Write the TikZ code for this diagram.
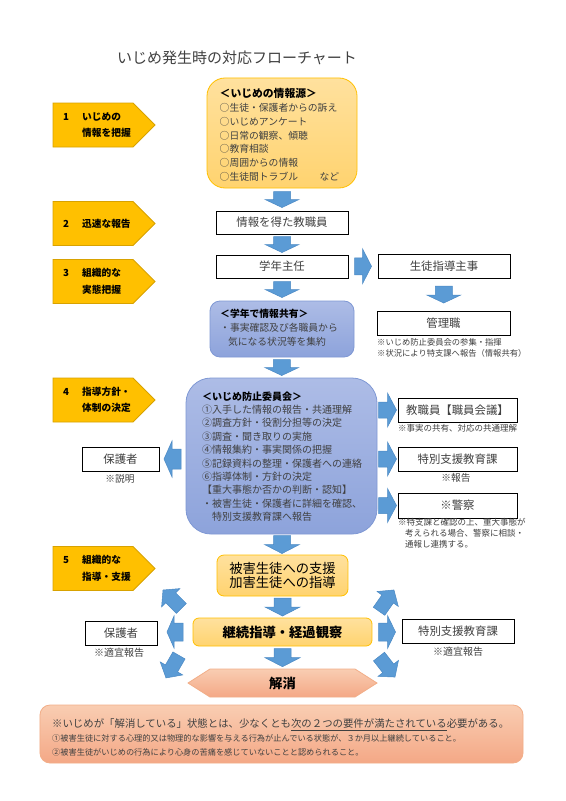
\documentclass[tikz,border=0pt]{standalone}
\usepackage{fontspec}
\setmainfont{Noto Sans CJK JP}
\usetikzlibrary{calc}
\definecolor{gold}{HTML}{FFC000}
\definecolor{golddark}{HTML}{D8A200}
\definecolor{ltor1}{HTML}{FFE19E}
\definecolor{ltor2}{HTML}{FFD36F}
\definecolor{blu}{HTML}{5B9BD5}
\definecolor{bludark}{HTML}{4A89C4}
\definecolor{per1}{HTML}{ADBCE6}
\definecolor{per2}{HTML}{8DA3DB}
\definecolor{perd}{HTML}{7F98D4}
\definecolor{sal1}{HTML}{F9CDB2}
\definecolor{sal2}{HTML}{F4A886}
\definecolor{sald}{HTML}{F2AE88}
\definecolor{txtgray}{HTML}{404040}
\newcommand{\fsz}[2]{\fontsize{#1bp}{#2bp}\selectfont}
\newcommand{\barr}[6]{\draw[barrow,shift={#1},rotate=#2] (-#3/2,-#4/2) -- (#3/2-#6,-#4/2) -- (#3/2-#6,-#5/2) -- (#3/2,0) -- (#3/2-#6,#5/2) -- (#3/2-#6,#4/2) -- (-#3/2,#4/2) -- cycle;}
\newcommand{\labshape}[1]{\path[labfill] (53,#1-22) -- (133,#1-22) -- (155,#1) -- (133,#1+22) -- (53,#1+22) -- cycle;}
\begin{document}
\begin{tikzpicture}[x=1bp,y=-1bp,
  labfill/.style={fill=gold, draw=golddark, line width=0.8bp, line join=miter},
  labtxt/.style={font=\bfseries\fsz{9.7}{16.5}, align=left, anchor=west, inner sep=0},
  box/.style={draw=black, line width=0.8bp, fill=white, inner sep=0, text=txtgray, font=\fsz{11.4}{13}},
  orbox/.style={draw=gold, line width=0.8bp, top color=ltor1, bottom color=ltor2, inner sep=0},
  perbox/.style={draw=perd, line width=0.8bp, top color=per1, bottom color=per2, inner sep=0},
  salbox/.style={draw=sald, line width=0.8bp, top color=sal1, bottom color=sal2, inner sep=0},
  txt/.style={inner sep=0, text=txtgray},
  barrow/.style={fill=blu, draw=bludark, line width=0.5bp, line join=miter}]
\fill[white] (0,0) rectangle (566,801);
\useasboundingbox (0,0) rectangle (566,801);

\node[txt, font=\fsz{15}{18}] (title) at (237,58) {いじめ発生時の対応フローチャート};

% stage labels
\labshape{125}
\node[labtxt] (l1t) at (63,125) {\makebox[19bp][l]{1}いじめの\\\hspace*{19bp}情報を把握};
\labshape{223.5}
\node[labtxt] (l2t) at (63,223.5) {\makebox[19bp][l]{2}迅速な報告};
\labshape{281.5}
\node[labtxt] (l3t) at (63,281.5) {\makebox[19bp][l]{3}組織的な\\\hspace*{19bp}実態把握};
\labshape{400}
\node[labtxt] (l4t) at (63,400) {\makebox[19bp][l]{4}指導方針・\\\hspace*{19bp}体制の決定};
\labshape{568.5}
\node[labtxt] (l5t) at (63,568.5) {\makebox[19bp][l]{5}組織的な\\\hspace*{19bp}指導・支援};

% info source
\node[orbox, rounded corners=18bp, minimum width=150bp, minimum height=110bp] (info) at (282,133) {};
\node[txt, anchor=north west, align=left, font=\fsz{9.8}{13.7}] (infot) at (219.5,88.5)
 {{\bfseries\color{black}\fsz{10.8}{13.7}＜いじめの情報源＞}\\○生徒・保護者からの訴え\\○いじめアンケート\\○日常の観察、傾聴\\○教育相談\\○周囲からの情報\\○生徒間トラブル\hspace{2.2em}など};

\node[box, minimum width=132bp, minimum height=23bp] (t1) at (282,222.5) {情報を得た教職員};
\node[box, minimum width=132bp, minimum height=23bp] (t2) at (282,266.5) {学年主任};
\node[box, minimum width=132bp, minimum height=24bp] (t3) at (444,266) {生徒指導主事};
\node[box, minimum width=133bp, minimum height=24bp] (t4) at (443.5,323) {管理職};
\node[txt, anchor=north west, align=left, font=\fsz{8.3}{11.6}] (t4n) at (377,338) {※いじめ防止委員会の参集・指揮\\※状況により特支課へ報告（情報共有）};

\node[perbox, rounded corners=10bp, minimum width=144bp, minimum height=56bp] (t5) at (282,329) {};
\node[txt, anchor=north west, align=left, font=\fsz{9.8}{14}] (t5t) at (220,308.6)
 {{\bfseries\color{black}＜学年で情報共有＞}\\・事実確認及び各職員から\\\hspace*{0.8em}気になる状況等を集約};

% committee
\node[perbox, rounded corners=25bp, minimum width=191bp, minimum height=156bp] (com) at (281.5,456) {};
\node[txt, anchor=north west, align=left, font=\fsz{10}{13.35}] (comt) at (202,391.5)
 {{\bfseries\color{black}＜いじめ防止委員会＞}\\①入手した情報の報告・共通理解\\②調査方針・役割分担等の決定\\③調査・聞き取りの実施\\④情報集約・事実関係の把握\\⑤記録資料の整理・保護者への連絡\\⑥指導体制・方針の決定\\【重大事態か否かの判断・認知】\\・被害生徒・保護者に詳細を確認、\\\hspace*{1em}特別支援教育課へ報告};

\node[box, minimum width=77bp, minimum height=24bp] (hogo1) at (120.5,459) {保護者};
\node[txt, font=\fsz{9.7}{11}] (hogo1n) at (120,479) {※説明};

\node[box, minimum width=119bp, minimum height=24bp] (r1) at (457.5,410) {教職員【職員会議】};
\node[txt, anchor=west, font=\fsz{8.5}{10}] (r1n) at (398,428) {※事実の共有、対応の共通理解};
\node[box, minimum width=119bp, minimum height=24bp] (r2) at (457.5,459) {特別支援教育課};
\node[txt, font=\fsz{9.7}{11}] (r2n) at (456,478) {※報告};
\node[box, minimum width=119bp, minimum height=25bp] (r3) at (457.5,505.5) {※警察};
\node[txt, anchor=north west, align=left, font=\fsz{8.5}{11}] (r3n) at (398,518.2)
 {※特支課と確認の上、重大事態が\\\hspace*{0.8em}考えられる場合、警察に相談・\\\hspace*{0.8em}通報し連携する。};

% lower flow
\node[orbox, rounded corners=7bp, minimum width=131bp, minimum height=41bp, align=center, font=\fsz{13.3}{14.5}] (s1) at (282.5,575.5) {被害生徒への支援\\加害生徒への指導};
\node[orbox, rounded corners=6bp, minimum width=179bp, minimum height=28bp, font=\bfseries\fsz{13.3}{15}] (s2) at (282.5,632) {継続指導・経過観察};
\path[salbox] (188,683) -- (210,669) -- (355,669) -- (377,683) -- (355,697) -- (210,697) -- cycle;
\node[inner sep=0, font=\bfseries\fsz{13.3}{15}] (s3) at (282.5,683) {解消};
\coordinate (s3n) at (282.5,669);

\node[box, minimum width=72bp, minimum height=24bp] (hogo2) at (121,633) {保護者};
\node[txt, font=\fsz{10}{11}] (hogo2n) at (119,653) {※適宜報告};
\node[box, minimum width=112bp, minimum height=24bp] (tok2) at (458,631) {特別支援教育課};
\node[txt, font=\fsz{10}{11}] (tok2n) at (458,652) {※適宜報告};

% note
\node[salbox, rounded corners=10bp, minimum width=483bp, minimum height=58bp] (nb) at (281.5,734) {};
\node[txt, anchor=west, font=\fsz{10.4}{12}] (nb1) at (52,725) {※いじめが「解消している」状態とは、少なくとも\underline{次の２つの要件が満たされている}必要がある。};
\node[txt, anchor=west, font=\fsz{8.2}{10}] (nb2) at (52,738) {①被害生徒に対する心理的又は物理的な影響を与える行為が止んでいる状態が、３か月以上継続していること。};
\node[txt, anchor=west, font=\fsz{8.2}{10}] (nb3) at (52,752) {②被害生徒がいじめの行為により心身の苦痛を感じていないことと認められること。};

% arrows
\barr{($(info.south)!.5!(t1.north)$)}{-90}{16}{17}{34}{8}
\barr{($(t1.south)!.5!(t2.north)$)}{-90}{16}{17}{34}{8}
\barr{($(t2.south)!.5!(t5.north)$)}{-90}{16}{17}{34}{8}
\barr{($(t3.south)!.5!(t4.north)$)}{-90}{17}{17}{34}{8}
\barr{($(t5.south)!.5!(com.north)$)}{-90}{16}{17}{34}{8}
\barr{($(com.south)!.5!(s1.north)$)}{-90}{18}{17}{35}{9}
\barr{($(s1.south)!.5!(s2.north)$)}{-90}{18}{17}{35}{9}
\barr{($(s2.south)!.5!(s3n)$)}{-90}{18}{17}{35}{9}
\barr{($(t2.east)!.5!(t3.west)$)}{0}{17}{17}{35}{9}
\barr{($(com.east|-r1.west)!.5!(r1.west)$)}{0}{18}{16}{34}{9}
\barr{($(com.east|-r2.west)!.5!(r2.west)$)}{0}{18}{16}{34}{9}
\barr{($(com.east|-r3.west)!.5!(r3.west)$)}{0}{18}{16}{34}{9}
\barr{($(com.west|-hogo1.east)!.5!(hogo1.east)$)}{180}{17}{20}{36}{8}
\barr{($(s2.west)!.5!(hogo2.east|-s2.west)$)}{180}{16}{18}{32}{7}
\barr{($(s2.east)!.5!(tok2.west|-s2.east)$)}{0}{17}{18}{33}{8}
\coordinate (dlu) at (172.2,599.2);
\coordinate (dll) at (172.5,666.7);
\coordinate (dru) at (386.5,600.6);
\coordinate (drl) at (387,666.8);
\barr{(dlu)}{135}{26}{14}{26}{11}
\barr{(dll)}{-120}{26}{14}{26}{11}
\barr{(dru)}{55}{26}{14}{26}{11}
\barr{(drl)}{-52}{26}{14}{26}{11}
\end{tikzpicture}
\end{document}
